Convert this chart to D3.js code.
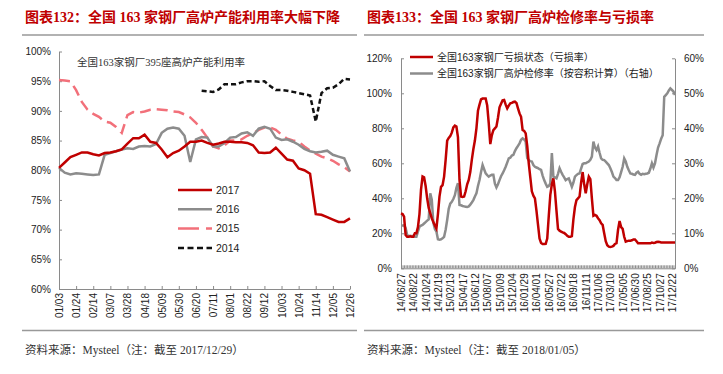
<!DOCTYPE html>
<html>
<head>
<meta charset="utf-8">
<script src="https://cdn.jsdelivr.net/npm/d3@7"></script>
<style>
  body { margin: 0; background: #fff; }
  text { font-family: "Liberation Sans", Arial, sans-serif; }
</style>
</head>
<body>
<div id="chart"></div>
<script>
// ---- left panel: weekly capacity utilisation (%) ----
var weekLabels = ["01/03","01/24","02/14","03/07","03/28","04/18","05/09","05/30","06/20",
                  "07/11","08/01","08/22","09/12","10/03","10/24","11/14","12/05","12/26"];
var years = ["2017", "2016", "2015", "2014"];
var util2017 = [80.4, 81.3, 82.2, 82.6, 83.0, 83.0, 82.7, 82.5, 82.9, 83.0,
                83.2, 83.5, 84.5, 85.4, 85.4, 86.0, 84.8, 84.6, 83.5, 82.2,
                82.9, 83.3, 84.0, 84.8, 84.8, 85.0, 84.6, 84.3, 84.5, 84.8,
                84.8, 84.7, 84.7, 84.6, 84.2, 83.0, 82.9, 83.0, 83.8, 82.8,
                81.8, 81.6, 80.3, 80.0, 79.4, 72.6, 72.5, 72.1, 71.7, 71.3,
                71.3, 71.9];
var util2016 = [80.4, 79.6, 79.3, 79.5, 79.4, 79.3, 79.2, 79.3, 82.6, 82.9,
                83.2, 83.5, 83.7, 83.6, 84.0, 84.1, 84.0, 84.4, 86.3, 87.0,
                87.2, 87.0, 85.8, 81.4, 85.2, 85.6, 85.5, 84.0, 84.0, 84.6,
                85.5, 85.6, 86.2, 86.4, 85.8, 87.0, 87.3, 87.0, 85.5, 85.1,
                85.2, 84.8, 84.3, 83.6, 83.2, 83.0, 83.1, 83.3, 82.6, 82.3,
                82.0, 79.8];
var util2015 = [95.2, 95.1, 95.0, 93.5, 91.5, 90.2, 89.5, 89.0, 88.2, 88.0,
                87.3, 86.3, 89.3, 89.8, 89.7, 89.9, 90.2, 90.3, 90.2, 90.1,
                89.9, 89.8, 89.4, 88.9, 88.0, 86.8, 85.5, 84.0, 83.7, 84.2,
                85.0, 85.0, 85.2, 85.8, 86.2, 86.8, 87.2, 87.2, 86.8, 86.0,
                85.3, 85.0, 84.8, 84.0, 83.3, 82.8, 82.3, 82.0, 81.6, 81.0,
                80.5, 79.8];
var util2014 = [null, null, null, null, null, null, null, null, null, null,
                null, null, null, null, null, null, null, null, null, null,
                null, null, null, null, null, 93.4, 93.3, 93.2, 93.6, 94.5,
                94.5, 94.5, 94.8, 95.0, 95.0, 94.9, 95.0, 94.2, 93.5, 93.5,
                93.4, 93.2, 93.0, 92.8, 92.6, 88.2, 93.0, 93.8, 93.9, 94.5,
                95.4, 95.3];

// ---- right panel: loss rate (left axis) and maintenance rate (right axis) ----
var dateLabels = ["14/06/27","14/08/22","14/10/24","14/12/19","15/02/13","15/04/17","15/06/12",
                  "15/08/07","15/10/09","15/12/04","16/01/29","16/04/01","16/05/27","16/07/22",
                  "16/09/18","16/11/11","17/01/06","17/03/10","17/05/05","17/06/30","17/08/25",
                  "17/10/27","17/12/22"];
var lossRate = [31.4, 31, 29.5, 19, 18, 18, 18.3, 18, 18, 20,
                20, 23.5, 31, 45, 52.5, 52, 47, 40, 34.5, 31.5,
                28.5, 26.5, 24.5, 22.8, 31, 41, 46.5, 47.5, 52.4, 62,
                73, 74.5, 75.5, 77.5, 80.5, 81.5, 81, 75, 50.5, 41,
                40.8, 41, 44, 48, 50.5, 55, 62, 68, 73, 80,
                90, 93.5, 96.5, 97, 97, 97, 93, 83, 71, 76,
                79, 80, 81, 86, 92, 94, 96, 96.2, 93.5, 91.4,
                93, 94.3, 94.5, 95, 95.2, 94.5, 91.4, 88.5, 86.6, 79,
                78.5, 77.1, 70, 60, 52, 44, 41.5, 40, 33, 25,
                17, 14.5, 13.9, 13.9, 14, 17, 30, 42, 48, 51.4,
                44, 33, 22.5, 21.5, 21, 20.5, 20.2, 19.5, 18.6, 18,
                18, 18.4, 28, 35, 39, 40, 41, 49, 55, 48,
                42.9, 48, 52.4, 51, 40, 30, 30.5, 30, 28.6, 27.5,
                25.7, 24.8, 20, 15.5, 13.2, 12.4, 12.2, 12.4, 12.8, 13.9,
                14.3, 22, 27, 23.5, 22.5, 18, 15.2, 15.5, 15.8, 15.8,
                16, 16.5, 16.5, 15.5, 14.3, 14.3, 14.3, 14.3, 14.3, 14.3,
                14.3, 14.3, 14.3, 14.7, 14.5, 14.6, 15, 15.2, 15, 14.8,
                14.8, 14.8, 14.8, 14.8, 14.8, 14.8, 14.8, 14.8, 14.8];
var maintRate = [12.2, 12.2, 12.3, 11.5, 9.5, 9.2, 9.3, 9.2, 9.2, 9.0,
                 9.0, 10.5, 11.9, 12.2, 12.4, 12.8, 13.2, 13.6, 14, 21.4,
                 19.6, 13, 11.2, 10.5, 8.3, 8.2, 8.3, 8.6, 9.0, 11,
                 13.8, 17, 18.5, 19, 19.8, 20.9, 23, 24.3, 18.1, 18,
                 17.8, 17.7, 17.6, 17.5, 17.7, 18.2, 18.8, 19.5, 20.5, 21.4,
                 23.5, 25.2, 27.5, 29.5, 28.3, 27.1, 26.6, 26.2, 26.5, 26.7,
                 26.7, 24.2, 23.1, 24, 25.2, 26.3, 27.1, 28, 29, 30.2,
                 31.4, 31.6, 32.2, 32.4, 33.5, 34.3, 35, 35.7, 36.7, 37.1,
                 36.8, 36.2, 31.5, 30.9, 30.6, 30.5, 29.5, 29, 28.8, 28.6,
                 28.3, 28.1, 26.5, 25.2, 24.2, 23.3, 23.5, 24.3, 32.9, 26.2,
                 26, 25.7, 27, 28.6, 27.6, 26.7, 26, 25.2, 25.5, 25.7,
                 24.5, 23.3, 24.5, 26.2, 26.6, 27, 27.1, 28.5, 29.8, 30,
                 30, 30.3, 30.5, 31, 31.9, 36.2, 34.5, 33.8, 34.8, 33,
                 31.4, 31, 30.9, 30.5, 30, 29.5, 28.6, 27.5, 26.2, 25.8,
                 25.2, 25.2, 26, 27.5, 29, 31.4, 30.5, 29, 28, 27.1,
                 27, 26.8, 26.7, 27.3, 27.6, 27, 26.7, 27, 26.9, 27,
                 27.1, 27.3, 28.5, 30, 28.8, 30, 32.4, 34.5, 35.7, 37,
                 38, 49, 49.5, 50, 50.8, 51.4, 51, 50.5, 49.5];

var width = 723, height = 374;
var red = "#C00000", grey = "#8C8C8C", pink = "#F2707A", axisCol = "#8A8A8A";
var cjkSerif = '"Liberation Serif", "Noto Sans CJK SC", serif';
var cjkSans = '"Liberation Sans", "Noto Sans CJK SC", sans-serif';

var svg = d3.select("#chart")
  .append("svg")
    .attr("width", width)
    .attr("height", height);

// titles, rules and sources for both panels
function frame(x0, x1, title, source) {
  svg.append("text")
    .attr("x", x0 + 3).attr("y", 22)
    .attr("fill", red)
    .style("font-family", cjkSerif)
    .style("font-size", "14px")
    .style("font-weight", "bold")
    .text(title);
  svg.append("line")
    .attr("x1", x0).attr("x2", x1).attr("y1", 35).attr("y2", 35)
    .attr("stroke", "#999").attr("stroke-width", 1.5);
  svg.append("line")
    .attr("x1", x0).attr("x2", x1).attr("y1", 330.5).attr("y2", 330.5)
    .attr("stroke", "#999").attr("stroke-width", 1.5);
  svg.append("text")
    .attr("x", x0 + 3).attr("y", 354)
    .attr("fill", "#333")
    .style("font-family", cjkSerif)
    .style("font-size", "11.5px")
    .text(source);
}
frame(22, 357, "图表132：全国 163 家钢厂高炉产能利用率大幅下降", "资料来源：Mysteel（注：截至 2017/12/29）");
frame(364, 704, "图表133：全国 163 家钢厂高炉检修率与亏损率", "资料来源：Mysteel（注：截至 2018/01/05）");

function styleAxis(g) {
  g.selectAll("path, line").attr("stroke", axisCol);
  g.selectAll("text").attr("fill", "#222").style("font-size", "10px")
    .style("font-family", '"Liberation Sans", Arial, sans-serif');
}

// ================= left panel =================
var xL = d3.scaleLinear().domain([0, 51]).range([59, 350]);
var yL = d3.scaleLinear().domain([60, 100]).range([289, 51.5]);

svg.append("g")
  .attr("transform", "translate(" + xL(0) + ",0)")
  .call(d3.axisLeft(yL).tickValues(d3.range(60, 101, 5))
        .tickFormat(function(d) { return d + "%"; })
        .tickSizeInner(-3).tickSizeOuter(0).tickPadding(8))
  .call(styleAxis);

var xAxisL = svg.append("g")
  .attr("transform", "translate(0," + yL(60) + ")")
  .call(d3.axisBottom(xL).tickValues(d3.range(0, 52, 3))
        .tickFormat(function(d, i) { return weekLabels[i]; })
        .tickSizeInner(-3).tickSizeOuter(0))
  .call(styleAxis);
xAxisL.selectAll("text")
  .attr("y", 0).attr("x", -4).attr("dy", "0.35em")
  .attr("transform", "rotate(-90)")
  .style("text-anchor", "end");

svg.append("text")
  .attr("x", 77).attr("y", 66)
  .attr("fill", "#333")
  .style("font-family", cjkSerif)
  .style("font-size", "10.5px")
  .text("全国163家钢厂395座高炉产能利用率");

var lineL = d3.line()
  .defined(function(d) { return d != null; })
  .x(function(d, i) { return xL(i); })
  .y(function(d) { return yL(d); });

var leftSeries = [
  { name: "2017", values: util2017, color: red,   dash: null,   legendDash: null },
  { name: "2016", values: util2016, color: grey,  dash: null,   legendDash: null },
  { name: "2015", values: util2015, color: pink,  dash: "11,6", legendDash: "21,7" },
  { name: "2014", values: util2014, color: "#111", dash: "5,3", legendDash: "6,3.5" }
];

// draw order: 2014, 2015, 2016, 2017 on top
leftSeries.slice().reverse().forEach(function(s) {
  svg.append("path")
    .datum(s.values)
    .attr("fill", "none")
    .attr("stroke", s.color)
    .attr("stroke-width", 2.5)
    .attr("stroke-dasharray", s.dash)
    .attr("d", lineL);
});

// legend
leftSeries.forEach(function(s, i) {
  var ly = 190 + i * 19.3;
  svg.append("line")
    .attr("x1", 178).attr("x2", 212).attr("y1", ly).attr("y2", ly)
    .attr("stroke", s.color).attr("stroke-width", 2.5)
    .attr("stroke-dasharray", s.legendDash);
  svg.append("text")
    .attr("x", 216).attr("y", ly).attr("dy", "0.35em")
    .attr("fill", "#222")
    .style("font-size", "10.5px")
    .text(s.name);
});

// ================= right panel =================
var xR = d3.scaleLinear().domain([0, lossRate.length - 1]).range([401, 675]);
var yR = d3.scaleLinear().domain([0, 120]).range([268.3, 58.3]);
var yR2 = d3.scaleLinear().domain([0, 60]).range([268.3, 58.3]);

svg.append("g")
  .attr("transform", "translate(" + xR.range()[0] + ",0)")
  .call(d3.axisLeft(yR).tickValues(d3.range(0, 121, 20))
        .tickFormat(function(d) { return d + "%"; })
        .tickSizeInner(-3).tickSizeOuter(0).tickPadding(9))
  .call(styleAxis);

svg.append("g")
  .attr("transform", "translate(" + xR.range()[1] + ",0)")
  .call(d3.axisRight(yR2).tickValues(d3.range(0, 61, 10))
        .tickFormat(function(d) { return d + "%"; })
        .tickSizeInner(-3).tickSizeOuter(0).tickPadding(9))
  .call(styleAxis);

// small tick on every week
svg.append("g")
  .attr("transform", "translate(0," + yR(0) + ")")
  .call(d3.axisBottom(xR).tickValues(d3.range(0, lossRate.length))
        .tickFormat("").tickSizeInner(-3).tickSizeOuter(0))
  .call(styleAxis);

var xAxisR = svg.append("g")
  .attr("transform", "translate(0," + yR(0) + ")")
  .call(d3.axisBottom(xR).tickValues(d3.range(0, 177, 8))
        .tickFormat(function(d, i) { return dateLabels[i]; })
        .tickSize(0))
  .call(styleAxis);
xAxisR.select(".domain").remove();
xAxisR.selectAll("text")
  .attr("y", 0).attr("x", -5).attr("dy", "0.35em")
  .attr("transform", "rotate(-90)")
  .style("text-anchor", "end");

svg.append("path")
  .datum(maintRate)
  .attr("fill", "none")
  .attr("stroke", grey)
  .attr("stroke-width", 2.5)
  .attr("d", d3.line()
    .x(function(d, i) { return xR(i); })
    .y(function(d) { return yR2(d); }));

svg.append("path")
  .datum(lossRate)
  .attr("fill", "none")
  .attr("stroke", red)
  .attr("stroke-width", 2.5)
  .attr("d", d3.line()
    .x(function(d, i) { return xR(i); })
    .y(function(d) { return yR(d); }));

var rightLegend = [
  { label: "全国163家钢厂亏损状态（亏损率）", color: red },
  { label: "全国163家钢厂高炉检修率（按容积计算）（右轴）", color: grey }
];
rightLegend.forEach(function(s, i) {
  var ly = 57 + i * 16.5;
  svg.append("line")
    .attr("x1", 410).attr("x2", 433).attr("y1", ly).attr("y2", ly)
    .attr("stroke", s.color).attr("stroke-width", 2.5);
  svg.append("text")
    .attr("x", 437).attr("y", ly).attr("dy", "0.35em")
    .attr("fill", "#222")
    .style("font-family", cjkSans)
    .style("font-size", "10px")
    .text(s.label);
});
</script>
</body>
</html>
